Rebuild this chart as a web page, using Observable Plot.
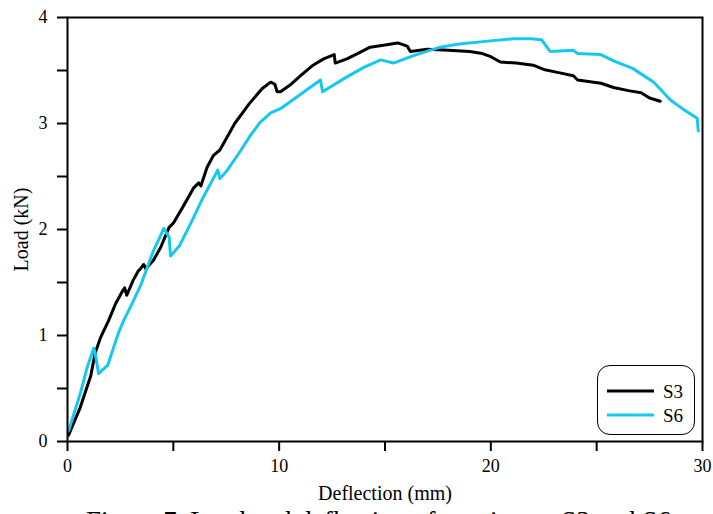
<!DOCTYPE html>
<html>
<head>
<meta charset="utf-8">
<script src="https://cdn.jsdelivr.net/npm/d3@7"></script>
<script src="https://cdn.jsdelivr.net/npm/@observablehq/plot@0.6"></script>
<style>
  html, body { margin: 0; padding: 0; background: #fff; overflow: hidden; }
  #wrap { position: relative; width: 713px; height: 514px; overflow: hidden; }
  #legend { position: absolute; left: 597px; top: 365px; width: 98px; height: 70px;
    border: 1px solid #000; border-radius: 13px; background: #fff; box-sizing: border-box; }
  #caption { position: absolute; left: 86px; top: 508px; white-space: nowrap;
    font-family: 'Liberation Serif', 'Times New Roman', serif; font-size: 27px; line-height: 27px; color: #000; }
</style>
</head>
<body>
<div id="wrap">
  <div id="chart"></div>
  <div id="legend"></div>
  <div id="caption">Figure 7. Load and deflection of specimens S3 and S6</div>
</div>
<script>
const seriesNames = ["S3", "S6"];
const seriesColors = ["#000000", "#17c7f0"];

const s3Deflection = [0.05,0.6,1.1,1.3,1.56,1.94,2.27,2.6,2.7,2.8,3.1,3.35,3.45,3.6,3.7,4.06,4.4,4.8,5.0,5.5,5.95,6.2,6.3,6.6,6.9,7.2,7.9,8.6,9.2,9.6,9.8,9.9,10.06,10.5,11.0,11.6,12.1,12.6,12.65,13.2,13.7,14.3,15.0,15.6,16.05,16.2,17.0,18.0,19.0,19.6,20.0,20.45,21.2,22.0,22.5,23.2,23.9,24.1,25.2,25.8,26.5,27.1,27.5,28.0];
const s3Load = [0.06,0.32,0.62,0.83,0.98,1.14,1.30,1.42,1.45,1.38,1.52,1.61,1.63,1.67,1.63,1.71,1.83,2.02,2.06,2.23,2.39,2.44,2.41,2.59,2.70,2.75,3.0,3.19,3.33,3.39,3.37,3.30,3.30,3.36,3.45,3.55,3.61,3.65,3.57,3.61,3.66,3.72,3.74,3.76,3.73,3.68,3.70,3.69,3.68,3.66,3.63,3.58,3.57,3.55,3.51,3.48,3.45,3.41,3.38,3.34,3.31,3.29,3.24,3.21];

const s6Deflection = [0.05,0.6,0.93,1.24,1.3,1.47,1.9,2.4,2.65,3.0,3.45,4.06,4.3,4.55,4.8,4.87,5.3,5.95,6.4,7.1,7.2,7.55,8.2,8.65,9.1,9.6,10.06,10.9,11.95,12.05,13.2,14.0,14.8,15.4,16.35,17.6,18.5,19.5,21.1,21.9,22.4,22.8,23.9,24.1,25.2,25.8,26.7,27.7,28.5,29.05,29.75,29.8];
const s6Load = [0.10,0.45,0.70,0.88,0.84,0.64,0.72,1.02,1.14,1.28,1.47,1.80,1.90,2.01,1.93,1.75,1.85,2.11,2.30,2.56,2.48,2.56,2.75,2.89,3.01,3.10,3.14,3.26,3.41,3.30,3.44,3.53,3.60,3.57,3.64,3.72,3.75,3.77,3.80,3.80,3.79,3.68,3.69,3.66,3.65,3.59,3.52,3.39,3.22,3.14,3.05,2.93];

const xTicks = [0,5,10,15,20,25,30];
const xLabels = [0,10,20,30];
const yTicks = [0,0.5,1,1.5,2,2.5,3,3.5,4];
const yLabels = [0,1,2,3,4];
const xTitle = "Deflection (mm)";
const yTitle = "Load (kN)";

const table = [];
s3Deflection.forEach((d,i) => table.push({series: "S3", x: d, y: s3Load[i]}));
s6Deflection.forEach((d,i) => table.push({series: "S6", x: d, y: s6Load[i]}));

const font = "'Liberation Serif', 'Times New Roman', serif";

const chart = Plot.plot({
  width: 713, height: 514,
  marginLeft: 67, marginRight: 11, marginTop: 17, marginBottom: 73,
  style: {fontFamily: font, fontSize: "18px", color: "#000", background: "#fff", overflow: "visible"},
  x: {domain: [0, 30]},
  y: {domain: [0, 4]},
  color: {domain: seriesNames, range: seriesColors},
  marks: [
    Plot.line(table, {x: "x", y: "y", z: "series", stroke: "series", strokeWidth: 3, strokeLinejoin: "round"}),
    Plot.frame({stroke: "#000", strokeWidth: 2}),
    Plot.axisX({ticks: xTicks, tickSize: 10, tickPadding: 8, strokeWidth: 2, label: null,
      tickFormat: d => xLabels.includes(d) ? String(d) : "", fontSize: 18, fontFamily: font}),
    Plot.axisY({ticks: yTicks, tickSize: 10, tickPadding: 10, strokeWidth: 2, label: null,
      tickFormat: d => yLabels.includes(d) ? String(d) : "", fontSize: 18, fontFamily: font}),
    Plot.text([xTitle], {text: d => d, frameAnchor: "bottom", dy: 52, fontSize: 20, lineAnchor: "middle", textAnchor: "middle"}),
    Plot.text([yTitle], {text: d => d, frameAnchor: "left", dx: -46, rotate: -90, fontSize: 20, lineAnchor: "middle", textAnchor: "middle"})
  ]
});
document.getElementById("chart").appendChild(chart);

// legend
const lg = d3.select("#legend").append("svg").attr("width", 96).attr("height", 68)
  .style("position", "absolute").style("left", "0px").style("top", "0px");
seriesNames.forEach((name, i) => {
  const y = 25 + i * 24;
  lg.append("line").attr("x1", 9).attr("x2", 56).attr("y1", y).attr("y2", y)
    .attr("stroke", seriesColors[i]).attr("stroke-width", 3);
  lg.append("text").attr("x", 65).attr("y", y).attr("dy", "0.35em")
    .attr("font-family", font).attr("font-size", 19).attr("fill", "#000").text(name);
});
</script>
</body>
</html>
